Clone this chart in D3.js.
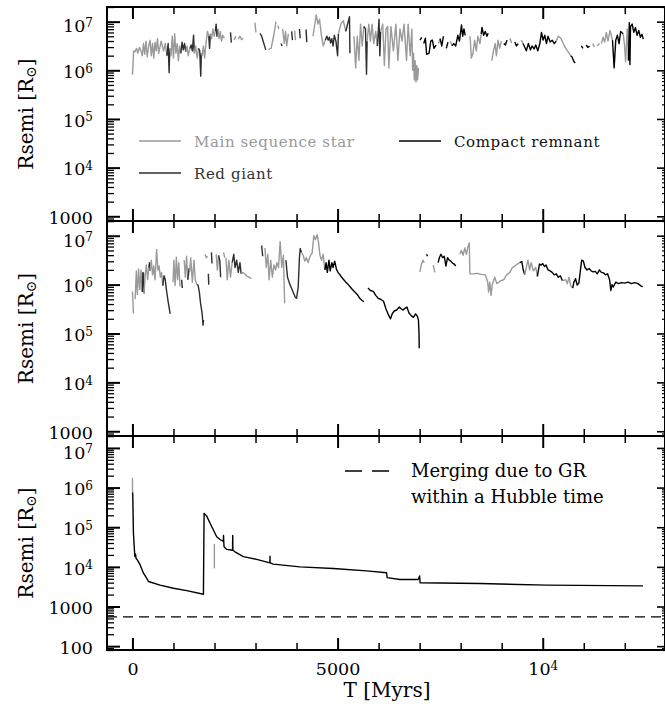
<!DOCTYPE html>
<html>
<head>
<meta charset="utf-8">
<script src="https://cdn.jsdelivr.net/npm/d3@7/dist/d3.min.js"></script>
<style>
  body { margin: 0; background: #fff; }
  svg { display: block; }
</style>
</head>
<body>
<div id="chart"></div>
<script>
// rows: [time in Myr, log10 Rsemi in R_sun, stage]   null = gap in the track
// stage: M = main sequence star, R = red giant, C = compact remnant
const topTrack = [
  [0,5.91,'M'],[30,6.40,'M'],[60,6.38,'M'],[100,6.45,'M'],[130,6.35,'M'],[170,6.47,'M'],[200,6.42,'M'],[240,6.30,'M'],
  [270,6.55,'M'],[300,6.33,'M'],[330,6.60,'M'],[360,6.28,'M'],[400,6.52,'M'],[430,6.62,'M'],[460,6.30,'M'],[490,6.55,'M'],
  [520,6.25,'M'],[550,6.58,'M'],[580,6.40,'M'],[610,6.65,'M'],[640,6.35,'M'],[700,6.60,'M'],[760,6.40,'M'],[800,6.55,'M'],[840,6.30,'M'],
  [870,6.55,'R'],[894,5.95,'R'],[910,6.45,'R'],
  [940,6.30,'M'],[970,6.70,'M'],[1000,6.25,'M'],[1030,6.75,'M'],[1060,6.35,'M'],[1090,6.55,'M'],[1120,6.20,'M'],[1150,6.50,'M'],[1180,6.35,'M'],
  [1210,6.58,'R'],[1240,6.42,'R'],[1270,6.55,'R'],[1300,6.38,'R'],
  [1330,6.50,'M'],[1360,6.30,'M'],[1400,6.45,'M'],
  [1430,6.52,'R'],[1460,6.40,'R'],[1490,6.72,'R'],[1510,6.35,'R'],
  [1540,6.50,'M'],[1580,6.25,'M'],[1610,6.45,'M'],
  [1640,6.40,'R'],[1665,5.88,'R'],[1680,6.35,'R'],
  [1700,6.30,'M'],[1730,6.50,'M'],[1760,6.25,'M'],[1800,6.62,'M'],[1830,6.80,'M'],[1860,6.70,'M'],
  [1880,6.45,'R'],[1900,6.75,'R'],
  [1930,6.65,'M'],[1960,6.85,'M'],[1990,6.70,'M'],[2020,6.80,'M'],
  [2040,6.95,'R'],[2060,6.70,'R'],[2080,6.85,'R'],
  [2110,6.65,'M'],[2140,6.80,'M'],[2170,6.60,'M'],[2200,6.72,'M'],[2240,6.66,'M'],
  null,
  [2390,6.78,'R'],[2410,6.57,'R'],
  null,
  [2480,6.62,'M'],[2520,6.70,'M'],
  null,
  [2580,6.64,'M'],[2620,6.70,'M'],[2660,6.63,'M'],[2700,6.66,'M'],
  null,
  [2985,6.98,'M'],[3010,6.78,'M'],
  null,
  [3110,6.76,'R'],[3150,6.70,'R'],[3250,6.42,'R'],
  null,
  [3310,6.43,'M'],[3380,6.45,'M'],[3440,6.70,'M'],[3500,7.00,'M'],
  null,
  [3550,6.92,'M'],[3565,6.85,'M'],
  null,
  [3625,6.55,'R'],[3645,6.50,'R'],
  null,
  [3660,6.85,'M'],[3700,6.55,'M'],[3730,6.80,'M'],[3760,6.50,'M'],[3800,6.75,'M'],
  null,
  [3880,6.80,'R'],[3900,6.62,'R'],
  null,
  [3950,6.82,'M'],[3975,6.62,'M'],
  null,
  [4070,6.85,'R'],[4090,6.66,'R'],
  null,
  [4230,6.84,'R'],[4250,6.58,'R'],
  null,
  [4400,6.70,'M'],[4480,7.14,'M'],[4520,6.95,'M'],[4560,7.05,'M'],[4600,6.75,'M'],[4650,6.50,'M'],[4700,6.62,'M'],
  [4740,6.70,'R'],[4770,6.62,'R'],[4800,6.68,'R'],[4830,6.56,'R'],[4860,6.65,'R'],[4890,6.50,'R'],[4920,6.72,'R'],
  [4960,6.60,'R'],[5000,6.30,'R'],[5020,6.75,'R'],
  [5080,6.95,'M'],[5140,7.02,'M'],[5200,6.80,'M'],
  [5290,7.10,'R'],[5300,6.35,'R'],
  null,
  [5400,6.70,'M'],[5440,6.05,'M'],[5480,6.70,'M'],[5520,6.20,'M'],[5560,6.95,'M'],[5600,6.50,'M'],[5640,6.90,'M'],
  [5680,6.85,'R'],[5705,5.92,'R'],[5720,6.60,'R'],
  [5760,6.95,'M'],[5800,6.60,'M'],[5840,6.95,'M'],[5880,6.55,'M'],[5930,6.80,'M'],[5970,6.50,'M'],
  [6010,7.05,'R'],[6030,6.30,'R'],[6050,6.80,'R'],
  [6100,6.95,'M'],[6140,6.10,'M'],[6180,6.85,'M'],[6220,6.90,'M'],[6250,6.05,'M'],[6300,6.90,'M'],[6360,6.40,'M'],
  [6420,6.95,'M'],[6470,6.20,'M'],[6520,6.85,'M'],[6570,6.60,'M'],[6620,6.95,'M'],[6680,6.20,'M'],[6720,6.95,'M'],
  [6770,6.30,'M'],[6810,6.85,'M'],[6830,6.00,'M'],[6850,6.35,'M'],[6870,5.80,'M'],[6890,6.20,'M'],[6910,5.76,'M'],
  [6930,6.10,'M'],[6950,5.80,'M'],[6970,6.05,'M'],
  null,
  [7010,6.62,'C'],[7050,6.68,'C'],
  null,
  [7100,6.55,'C'],[7140,6.66,'C'],[7170,6.33,'C'],[7230,6.35,'C'],[7270,6.60,'C'],[7310,6.62,'C'],[7350,6.45,'C'],[7400,6.52,'C'],
  null,
  [7460,6.55,'M'],[7500,6.65,'M'],[7540,6.50,'C'],[7580,6.70,'C'],
  null,
  [7650,6.45,'C'],[7690,6.58,'C'],
  null,
  [7750,6.60,'M'],[7790,6.50,'M'],[7830,6.55,'C'],[7880,6.50,'C'],[7930,6.72,'C'],[7970,6.60,'C'],[8020,6.93,'C'],
  [8050,6.70,'C'],[8080,6.85,'C'],[8110,6.72,'C'],
  null,
  [8230,6.70,'M'],[8260,6.25,'M'],[8300,6.35,'M'],[8340,6.62,'M'],[8380,6.40,'M'],[8420,6.70,'M'],[8470,6.55,'M'],[8500,6.75,'M'],
  [8520,6.88,'C'],[8560,6.72,'C'],[8600,6.80,'C'],[8640,6.70,'C'],[8670,6.76,'C'],
  null,
  [8760,6.20,'M'],[8800,6.40,'M'],[8840,6.55,'M'],[8870,6.30,'M'],[8910,6.62,'M'],[8950,6.45,'M'],[8990,6.60,'M'],
  null,
  [9050,6.55,'M'],[9090,6.52,'C'],[9130,6.62,'C'],
  null,
  [9200,6.66,'M'],[9240,6.56,'M'],
  null,
  [9320,6.58,'C'],[9360,6.50,'C'],[9400,6.55,'C'],
  null,
  [9480,6.62,'M'],[9520,6.55,'M'],
  [9560,6.48,'C'],[9600,6.40,'C'],[9650,6.55,'C'],[9700,6.42,'C'],[9740,6.50,'C'],[9790,6.44,'C'],[9830,6.52,'C'],
  [9880,6.40,'C'],[9930,6.55,'C'],[9970,6.78,'C'],[10010,6.62,'C'],[10050,6.72,'C'],[10090,6.55,'C'],[10130,6.70,'C'],
  [10180,6.58,'C'],[10230,6.62,'C'],[10280,6.55,'C'],[10330,6.60,'C'],
  [10380,6.70,'M'],[10440,6.66,'M'],[10500,6.55,'M'],[10560,6.45,'M'],[10620,6.38,'M'],[10680,6.30,'M'],
  [10710,6.28,'C'],[10760,6.18,'C'],[10790,6.15,'C'],
  null,
  [10940,6.50,'C'],[10980,6.45,'C'],
  null,
  [11060,6.52,'C'],[11100,6.47,'C'],[11140,6.50,'C'],
  null,
  [11220,6.55,'M'],[11260,6.48,'M'],
  null,
  [11330,6.50,'M'],[11380,6.55,'M'],
  null,
  [11430,6.55,'M'],[11470,6.68,'M'],[11510,6.58,'M'],[11550,6.78,'M'],[11590,6.60,'M'],[11640,6.82,'M'],[11700,6.62,'M'],
  [11740,6.05,'C'],[11780,6.62,'C'],[11820,6.72,'C'],[11860,6.55,'C'],[11900,6.80,'C'],[11960,6.75,'C'],
  [11990,6.55,'M'],[12020,6.18,'M'],[12060,6.85,'M'],[12090,6.20,'M'],
  [12110,6.98,'C'],[12125,6.12,'C'],[12140,6.90,'C'],[12180,6.95,'C'],[12220,6.78,'C'],[12260,6.88,'C'],[12300,6.72,'C'],
  [12340,6.82,'C'],[12380,6.68,'C'],[12420,6.74,'C'],[12450,6.64,'C']
];

const middleTrack = [
  [0,5.86,'M'],[25,5.41,'M'],
  null,
  [65,5.70,'M'],[95,6.28,'M'],[120,5.80,'M'],[150,6.32,'M'],[180,5.90,'M'],[210,6.30,'M'],[240,5.85,'M'],
  [255,6.25,'R'],[270,6.22,'R'],[285,5.82,'R'],
  [310,6.20,'M'],[340,6.40,'M'],[370,6.10,'M'],[400,6.35,'M'],
  [415,6.45,'R'],[430,6.28,'R'],
  [460,6.50,'M'],[490,6.20,'M'],[520,6.38,'M'],[550,6.10,'M'],[590,6.72,'M'],[620,6.30,'M'],[650,6.38,'M'],[680,6.15,'M'],
  [710,6.25,'M'],[740,5.98,'M'],
  [770,6.18,'R'],[800,6.10,'R'],[830,5.88,'R'],[870,5.65,'R'],[920,5.40,'R'],
  null,
  [990,6.05,'M'],[1010,6.50,'M'],[1040,5.98,'M'],[1070,6.56,'M'],[1100,6.10,'M'],[1130,6.45,'M'],[1160,5.96,'M'],
  null,
  [1200,6.10,'R'],[1215,5.93,'R'],
  null,
  [1260,6.50,'M'],[1290,6.15,'M'],[1320,6.58,'M'],[1350,6.10,'M'],
  [1380,6.33,'R'],[1395,6.27,'R'],
  [1420,6.55,'M'],[1460,6.05,'M'],[1500,6.50,'M'],[1530,6.10,'M'],[1570,6.00,'M'],
  [1600,5.99,'R'],[1630,5.85,'R'],[1660,5.62,'R'],[1700,5.40,'R'],[1720,5.17,'R'],[1735,5.28,'R'],
  null,
  [1770,6.62,'M'],[1800,6.55,'M'],[1830,6.58,'M'],
  null,
  [1850,6.22,'R'],[1860,6.00,'R'],
  null,
  [1925,6.66,'R'],[1940,6.43,'R'],
  null,
  [2040,6.62,'M'],[2070,6.30,'M'],[2100,6.60,'M'],
  [2130,6.48,'R'],[2150,6.15,'R'],
  null,
  [2220,6.66,'M'],[2250,6.55,'M'],
  null,
  [2280,6.55,'M'],[2310,6.10,'M'],[2350,6.50,'M'],[2390,6.15,'M'],[2430,6.45,'M'],
  [2470,6.62,'R'],[2500,6.35,'R'],[2540,6.50,'R'],[2580,6.25,'R'],[2620,6.45,'R'],[2650,6.22,'R'],
  [2700,6.25,'M'],[2780,6.18,'M'],[2850,6.15,'M'],[2900,6.12,'M'],
  null,
  [3150,6.80,'R'],[3175,6.58,'R'],
  null,
  [3230,6.75,'M'],[3260,6.35,'M'],[3300,6.62,'M'],[3330,6.10,'M'],[3370,6.50,'M'],[3410,6.15,'M'],[3450,6.40,'M'],
  [3490,6.30,'M'],[3520,6.45,'M'],[3560,6.35,'M'],[3600,6.88,'M'],[3640,6.35,'M'],[3680,6.60,'M'],[3710,5.62,'M'],
  null,
  [3740,6.50,'R'],[3780,6.15,'R'],[3830,6.02,'R'],[3880,5.92,'R'],[3930,5.82,'R'],[3970,5.74,'R'],[4000,5.72,'R'],
  [4040,5.95,'R'],[4070,6.55,'R'],[4090,6.74,'R'],[4120,6.66,'R'],
  [4160,6.60,'M'],[4200,6.48,'M'],[4240,6.55,'M'],[4280,6.45,'M'],[4330,6.58,'M'],[4380,6.65,'M'],[4420,7.00,'M'],
  [4460,6.92,'M'],[4500,7.02,'M'],[4530,6.90,'M'],[4570,6.60,'M'],[4610,6.50,'M'],[4650,6.62,'M'],[4690,6.30,'M'],
  [4720,6.45,'C'],[4750,6.25,'C'],[4790,6.50,'C'],[4820,6.28,'C'],[4860,6.45,'C'],[4890,6.35,'C'],[4930,6.48,'C'],
  [4970,6.32,'C'],[5010,6.25,'C'],[5060,6.20,'C'],[5100,6.15,'C'],[5150,6.10,'C'],[5200,6.05,'C'],[5260,6.00,'C'],
  [5310,5.95,'C'],[5360,5.90,'C'],[5420,5.85,'C'],[5480,5.80,'C'],[5540,5.72,'C'],[5590,5.68,'C'],[5640,5.65,'C'],
  null,
  [5740,5.93,'C'],[5800,5.88,'C'],[5870,5.86,'C'],[5930,5.78,'C'],[5990,5.72,'C'],[6050,5.70,'C'],[6120,5.66,'C'],
  [6180,5.50,'C'],[6240,5.38,'C'],[6290,5.30,'C'],[6330,5.40,'C'],[6380,5.46,'C'],[6440,5.48,'C'],[6500,5.54,'C'],
  [6560,5.50,'C'],[6600,5.48,'C'],[6650,5.52,'C'],[6690,5.54,'C'],[6740,5.42,'C'],[6800,5.36,'C'],[6850,5.33,'C'],
  [6900,5.40,'C'],[6940,5.36,'C'],[6970,5.28,'C'],[6985,5.00,'C'],[6990,4.70,'C'],
  null,
  [7005,6.26,'M'],[7040,6.40,'M'],[7080,6.50,'M'],[7110,6.45,'M'],
  null,
  [7170,6.62,'C'],[7190,6.58,'C'],
  null,
  [7330,6.40,'M'],[7370,6.25,'M'],
  null,
  [7450,6.45,'C'],[7480,6.55,'C'],[7520,6.62,'C'],[7560,6.55,'C'],[7600,6.58,'C'],[7640,6.38,'C'],[7680,6.55,'C'],
  [7720,6.50,'C'],[7760,6.48,'C'],[7800,6.44,'C'],[7840,6.42,'C'],[7880,6.38,'C'],
  null,
  [7980,6.62,'M'],[8020,6.70,'M'],[8060,6.60,'M'],[8100,6.75,'M'],[8140,6.62,'M'],[8180,6.78,'M'],[8210,6.85,'M'],
  [8225,6.22,'M'],[8300,6.22,'M'],[8400,6.23,'M'],[8500,6.21,'M'],[8600,6.20,'M'],[8660,6.05,'M'],[8680,5.85,'M'],
  [8710,6.05,'M'],[8740,5.78,'M'],[8770,6.00,'M'],[8830,6.15,'M'],[8880,6.02,'M'],[8930,6.05,'M'],[8980,6.08,'M'],
  [9050,6.10,'M'],[9120,6.20,'M'],[9200,6.25,'M'],[9260,6.35,'M'],[9320,6.38,'M'],[9380,6.42,'M'],[9440,6.45,'M'],
  [9490,6.47,'C'],[9520,6.32,'C'],[9560,6.20,'C'],
  [9640,6.50,'M'],[9680,6.30,'M'],[9720,6.45,'M'],[9770,6.28,'M'],[9830,6.35,'M'],[9870,6.17,'M'],
  [9920,6.42,'C'],[9960,6.40,'C'],[10000,6.43,'C'],[10040,6.37,'C'],[10080,6.40,'C'],[10130,6.30,'C'],[10180,6.28,'C'],
  [10230,6.25,'C'],[10280,6.20,'C'],[10330,6.22,'C'],[10380,6.15,'C'],[10430,6.18,'C'],[10480,6.08,'C'],
  [10560,6.10,'M'],[10600,6.02,'M'],[10640,6.15,'M'],[10680,5.98,'M'],[10730,5.93,'M'],
  [10760,6.05,'C'],[10800,6.12,'C'],[10840,5.99,'C'],[10880,6.03,'C'],[10920,6.30,'C'],[10950,6.50,'C'],[10990,6.48,'C'],
  [11030,6.35,'C'],[11080,6.30,'C'],[11130,6.33,'C'],[11180,6.28,'C'],[11230,6.26,'C'],[11280,6.27,'C'],[11330,6.22,'C'],
  [11380,6.30,'C'],[11430,6.25,'C'],[11480,6.24,'C'],[11530,6.20,'C'],[11580,6.22,'C'],[11630,6.10,'C'],[11660,5.88,'C'],
  [11690,6.00,'C'],[11720,5.95,'C'],[11780,6.05,'C'],[11850,6.02,'C'],[11920,6.04,'C'],[12000,6.03,'C'],[12080,6.05,'C'],
  [12160,6.02,'C'],[12240,6.04,'C'],[12320,6.02,'C'],[12400,5.97,'C'],[12440,5.96,'C']
];

const bottomTrack = [
  [0,6.24,'M'],[3,5.88,'M'],
  [8,5.80,'C'],[24,4.85,'C'],[58,4.26,'C'],[75,4.32,'C'],[90,4.21,'C'],[123,4.17,'C'],[188,4.05,'C'],[269,3.84,'C'],
  [350,3.71,'C'],[390,3.63,'C'],[674,3.54,'C'],[999,3.46,'C'],[1324,3.40,'C'],[1730,3.31,'C'],[1746,5.35,'C'],
  [1811,5.28,'C'],[1892,5.10,'C'],[1973,4.93,'C'],[2054,4.76,'C'],[2135,4.69,'C'],[2216,4.64,'C'],[2220,4.79,'C'],
  [2226,4.62,'C'],[2233,4.51,'C'],[2298,4.44,'C'],[2440,4.42,'C'],[2444,4.79,'C'],[2448,4.42,'C'],[2500,4.38,'C'],
  [2703,4.26,'C'],[3028,4.19,'C'],[3350,4.10,'C'],[3353,4.27,'C'],[3356,4.10,'C'],[3434,4.07,'C'],[4083,4.00,'C'],
  [4895,3.96,'C'],[5706,3.90,'C'],[6193,3.85,'C'],[6209,3.73,'C'],[6518,3.68,'C'],[6965,3.68,'C'],[7000,3.77,'C'],
  [7010,3.60,'C'],[8466,3.58,'C'],[10090,3.54,'C'],[12443,3.52,'C'],
  null,
  [1997,4.58,'M'],[1997,3.96,'M']
];

const mergeLimit = 550;   // Rsemi [R_sun] for a GR merger within a Hubble time
const xMajorTicks = [0, 5000, 10000];
const xMinorTicks = [1000, 2000, 3000, 4000, 6000, 7000, 8000, 9000, 11000, 12000];
const yMajorTicks = [1e3, 1e4, 1e5, 1e6, 1e7];
const yMajorTicksBottom = [1e2, 1e3, 1e4, 1e5, 1e6, 1e7];
const stageKeys = ['M', 'R', 'C'];
const stageNames = {M: 'Main sequence star', R: 'Red giant', C: 'Compact remnant'};
const stageColors = {M: '#9a9a9a', R: '#2e2e2e', C: '#000000'};

const serif = '"DejaVu Serif", serif';
const frameLeft = 107, frameRight = 665;

const svg = d3.select('#chart').append('svg')
    .attr('width', 665)
    .attr('height', 710);

const x = d3.scaleLinear().domain([-620, 12980]).range([frameLeft, frameRight]);

const panels = [
  {track: topTrack, top: 7, bottom: 221, domain: [800, 2e7], majors: yMajorTicks},
  {track: middleTrack, top: 221, bottom: 436, domain: [800, 2e7], majors: yMajorTicks},
  {track: bottomTrack, top: 436, bottom: 650, domain: [80, 2e7], majors: yMajorTicksBottom}
];

// break a track into runs of one stage; a new stage starts at the last point of the old one
function splitRuns(track) {
  const runs = [];
  let cur = null, prev = null;
  track.forEach(p => {
    if (p === null) { cur = null; prev = null; return; }
    if (!cur || cur.stage !== p[2]) {
      cur = {stage: p[2], pts: prev ? [prev] : []};
      runs.push(cur);
    }
    cur.pts.push(p);
    prev = p;
  });
  return runs.filter(r => r.pts.length > 1);
}

function styleAxis(g, width) {
  g.select('.domain').remove();
  g.selectAll('line').attr('stroke', '#000').attr('stroke-width', width);
  g.attr('font-family', serif).attr('font-size', 17.5);
}

function powerLabel(sel, v) {
  const e = Math.round(Math.log10(v));
  sel.text(null);
  if (e <= 3) { sel.text(String(v)); return; }
  sel.append('tspan').text('10');
  sel.append('tspan').attr('dy', -5.5).attr('font-size', 12).text(e);
}

panels.forEach((p, i) => {
  const y = d3.scaleLog().domain(p.domain).range([p.bottom, p.top]);
  const line = d3.line()
      .x(d => x(d[0]))
      .y(d => y(Math.pow(10, d[1])));

  const tracks = svg.append('g');
  splitRuns(p.track).forEach(run => {
    tracks.append('path')
        .attr('d', line(run.pts))
        .attr('fill', 'none')
        .attr('stroke', stageColors[run.stage])
        .attr('stroke-width', 1.4)
        .attr('stroke-linejoin', 'round');
  });

  // minor y ticks at 2..9 x each decade
  const yMinor = [];
  [p.majors[0] / 10].concat(p.majors).forEach(d => {
    for (let k = 2; k < 10; k++) {
      const v = k * d;
      if (v >= p.domain[0] && v <= p.domain[1]) yMinor.push(v);
    }
  });

  svg.append('g').attr('transform', `translate(${frameLeft},0)`)
      .call(d3.axisLeft(y).tickValues(yMinor).tickSize(-7).tickFormat(''))
      .call(g => styleAxis(g, 1.3));
  svg.append('g').attr('transform', `translate(${frameLeft},0)`)
      .call(d3.axisLeft(y).tickValues(p.majors).tickSize(-13).tickPadding(14).tickFormat(''))
      .call(g => styleAxis(g, 2))
      .call(g => g.selectAll('text')
          .attr('dy', '0.36em')
          .attr('y', d => d === 1e7 ? 4 : 1)   // labels sit a touch below their tick, as in the figure
          .each(function(d) { powerLabel(d3.select(this), d); }));
  svg.append('g').attr('transform', `translate(${frameRight},0)`)
      .call(d3.axisRight(y).tickValues(yMinor).tickSize(-3).tickFormat(''))
      .call(g => styleAxis(g, 1.2));
  svg.append('g').attr('transform', `translate(${frameRight},0)`)
      .call(d3.axisRight(y).tickValues(p.majors).tickSize(-8).tickFormat(''))
      .call(g => styleAxis(g, 1.6));

  // time ticks on top and bottom edge of every panel
  svg.append('g').attr('transform', `translate(0,${p.top})`)
      .call(d3.axisTop(x).tickValues(xMinorTicks).tickSize(-7).tickFormat(''))
      .call(g => styleAxis(g, 1.5));
  svg.append('g').attr('transform', `translate(0,${p.top})`)
      .call(d3.axisTop(x).tickValues(xMajorTicks).tickSize(-12).tickFormat(''))
      .call(g => styleAxis(g, 2));
  svg.append('g').attr('transform', `translate(0,${p.bottom})`)
      .call(d3.axisBottom(x).tickValues(xMinorTicks).tickSize(-7).tickFormat(''))
      .call(g => styleAxis(g, 1.5));
  const xb = svg.append('g').attr('transform', `translate(0,${p.bottom})`)
      .call(d3.axisBottom(x).tickValues(xMajorTicks).tickSize(-12).tickFormat(''))
      .call(g => styleAxis(g, 2));
  if (i === panels.length - 1) {
    xb.selectAll('text')
        .attr('y', 25).attr('dy', 0)
        .each(function(d) { powerLabel(d3.select(this), d); });
    xb.selectAll('text').filter(d => d === 0).text('0');
    xb.selectAll('text').filter(d => d === 5000).text('5000');
  } else {
    xb.selectAll('text').remove();
  }

  // y title
  const yt = svg.append('text')
      .attr('transform', `translate(33,${(p.top + p.bottom) / 2}) rotate(-90)`)
      .attr('text-anchor', 'middle')
      .attr('font-family', serif)
      .attr('font-size', 20);
  yt.append('tspan').text('Rsemi [R');
  yt.append('tspan').attr('dy', 3).attr('font-size', 14).text('\u2299');
  yt.append('tspan').attr('dy', -3).text(']');

  p.y = y;
});

// frame
svg.append('rect')
    .attr('x', frameLeft).attr('y', 7)
    .attr('width', frameRight - frameLeft).attr('height', 650 - 7)
    .attr('fill', 'none').attr('stroke', '#000').attr('stroke-width', 2);
[221, 436].forEach(yy => {
  svg.append('line')
      .attr('x1', frameLeft).attr('x2', frameRight)
      .attr('y1', yy).attr('y2', yy)
      .attr('stroke', '#000').attr('stroke-width', 2);
});

// x title
svg.append('text')
    .attr('x', 387).attr('y', 697)
    .attr('text-anchor', 'middle')
    .attr('font-family', serif)
    .attr('font-size', 20)
    .text('T [Myrs]');

// stage legend in the top panel
const legendPos = {M: [139, 141], R: [139, 173], C: [399, 141]};
const legendText = {M: '#999999', R: '#333333', C: '#111111'};
stageKeys.forEach(k => {
  const [lx, ly] = legendPos[k];
  svg.append('line')
      .attr('x1', lx).attr('x2', lx + 42)
      .attr('y1', ly).attr('y2', ly)
      .attr('stroke', stageColors[k]).attr('stroke-width', 1.4);
  svg.append('text')
      .attr('x', lx + 55).attr('y', ly + 6)
      .attr('font-family', serif)
      .attr('font-size', 15)
      .attr('letter-spacing', 0.6)
      .attr('fill', legendText[k])
      .text(stageNames[k]);
});

// GR merger limit in the bottom panel
const yb = panels[2].y;
svg.append('line')
    .attr('x1', frameLeft).attr('x2', frameRight)
    .attr('y1', yb(mergeLimit)).attr('y2', yb(mergeLimit))
    .attr('stroke', '#000').attr('stroke-width', 1.3)
    .attr('stroke-dasharray', '10,6');
svg.append('line')
    .attr('x1', 345).attr('x2', 398)
    .attr('y1', 471).attr('y2', 471)
    .attr('stroke', '#000').attr('stroke-width', 1.3)
    .attr('stroke-dasharray', '17,10');
svg.append('text')
    .attr('x', 411).attr('y', 477)
    .attr('font-family', serif).attr('font-size', 18)
    .text('Merging due to GR');
svg.append('text')
    .attr('x', 411).attr('y', 503)
    .attr('font-family', serif).attr('font-size', 18)
    .text('within a Hubble time');
</script>
</body>
</html>
